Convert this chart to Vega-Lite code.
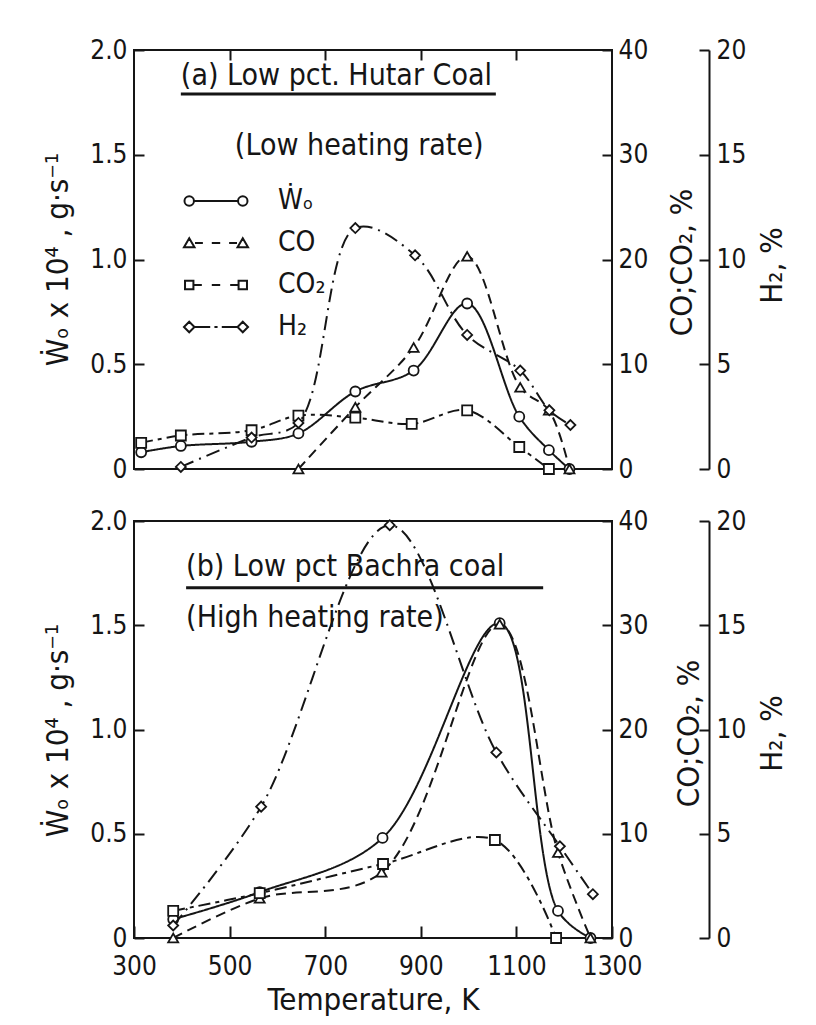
{
  "$schema": "https://vega.github.io/schema/vega-lite/v6.json",
  "background": "white",
  "padding": {"left": 41, "top": 36, "right": 0, "bottom": 0},
  "config": {
    "font": "DejaVu Sans Condensed, Liberation Sans Narrow, DejaVu Sans",
    "view": {"stroke": "#151515", "strokeWidth": 2},
    "concat": {"spacing": 24},
    "axis": {
      "grid": false,
      "labelFont": "DejaVu Sans Condensed, Liberation Sans Narrow, DejaVu Sans",
      "labelFontSize": 26,
      "labelColor": "#151515",
      "labelFlush": false,
      "labelOverlap": false,
      "titleFont": "DejaVu Sans Condensed, Liberation Sans Narrow, DejaVu Sans",
      "titleFontSize": 31,
      "titleFontWeight": "normal",
      "titleColor": "#151515",
      "tickColor": "#151515",
      "tickWidth": 2,
      "domainColor": "#151515",
      "domainWidth": 2
    },
    "legend": {
      "labelFont": "DejaVu Sans Condensed, Liberation Sans Narrow, DejaVu Sans",
      "labelFontSize": 28,
      "labelColor": "#151515"
    }
  },
  "datasets": {
    "curves": [
      {"panel": "a", "gas": "W", "T": 315, "v": 0.08},
      {"panel": "a", "gas": "W", "T": 398, "v": 0.11},
      {"panel": "a", "gas": "W", "T": 546, "v": 0.13},
      {"panel": "a", "gas": "W", "T": 644, "v": 0.17},
      {"panel": "a", "gas": "W", "T": 763, "v": 0.37},
      {"panel": "a", "gas": "W", "T": 885, "v": 0.47},
      {"panel": "a", "gas": "W", "T": 997, "v": 0.79},
      {"panel": "a", "gas": "W", "T": 1106, "v": 0.25},
      {"panel": "a", "gas": "W", "T": 1168, "v": 0.09},
      {"panel": "a", "gas": "W", "T": 1211, "v": 0},
      {"panel": "a", "gas": "CO", "T": 644, "v": 0},
      {"panel": "a", "gas": "CO", "T": 763, "v": 5.9},
      {"panel": "a", "gas": "CO", "T": 885, "v": 11.6},
      {"panel": "a", "gas": "CO", "T": 997, "v": 20.3},
      {"panel": "a", "gas": "CO", "T": 1108, "v": 7.8},
      {"panel": "a", "gas": "CO", "T": 1168, "v": 5.6},
      {"panel": "a", "gas": "CO", "T": 1211, "v": 0},
      {"panel": "a", "gas": "CO2", "T": 315, "v": 2.5},
      {"panel": "a", "gas": "CO2", "T": 398, "v": 3.2},
      {"panel": "a", "gas": "CO2", "T": 546, "v": 3.7},
      {"panel": "a", "gas": "CO2", "T": 644, "v": 5.1},
      {"panel": "a", "gas": "CO2", "T": 763, "v": 4.9},
      {"panel": "a", "gas": "CO2", "T": 881, "v": 4.3},
      {"panel": "a", "gas": "CO2", "T": 997, "v": 5.6},
      {"panel": "a", "gas": "CO2", "T": 1106, "v": 2.1},
      {"panel": "a", "gas": "CO2", "T": 1168, "v": 0},
      {"panel": "a", "gas": "H2", "T": 398, "v": 0.1},
      {"panel": "a", "gas": "H2", "T": 546, "v": 1.5},
      {"panel": "a", "gas": "H2", "T": 644, "v": 2.2},
      {"panel": "a", "gas": "H2", "T": 763, "v": 11.5},
      {"panel": "a", "gas": "H2", "T": 888, "v": 10.2},
      {"panel": "a", "gas": "H2", "T": 997, "v": 6.4},
      {"panel": "a", "gas": "H2", "T": 1108, "v": 4.7},
      {"panel": "a", "gas": "H2", "T": 1169, "v": 2.8},
      {"panel": "a", "gas": "H2", "T": 1213, "v": 2.1},
      {"panel": "b", "gas": "W", "T": 382, "v": 0.09},
      {"panel": "b", "gas": "W", "T": 563, "v": 0.22},
      {"panel": "b", "gas": "W", "T": 820, "v": 0.48},
      {"panel": "b", "gas": "W", "T": 1065, "v": 1.51},
      {"panel": "b", "gas": "W", "T": 1187, "v": 0.13},
      {"panel": "b", "gas": "W", "T": 1255, "v": 0},
      {"panel": "b", "gas": "CO", "T": 382, "v": 0},
      {"panel": "b", "gas": "CO", "T": 563, "v": 3.8},
      {"panel": "b", "gas": "CO", "T": 818, "v": 6.3},
      {"panel": "b", "gas": "CO", "T": 1065, "v": 30.1},
      {"panel": "b", "gas": "CO", "T": 1187, "v": 8.2},
      {"panel": "b", "gas": "CO", "T": 1255, "v": 0},
      {"panel": "b", "gas": "CO2", "T": 382, "v": 2.6},
      {"panel": "b", "gas": "CO2", "T": 563, "v": 4.3},
      {"panel": "b", "gas": "CO2", "T": 821, "v": 7.1},
      {"panel": "b", "gas": "CO2", "T": 1055, "v": 9.4},
      {"panel": "b", "gas": "CO2", "T": 1183, "v": 0},
      {"panel": "b", "gas": "H2", "T": 382, "v": 0.6},
      {"panel": "b", "gas": "H2", "T": 566, "v": 6.3},
      {"panel": "b", "gas": "H2", "T": 835, "v": 19.8},
      {"panel": "b", "gas": "H2", "T": 1058, "v": 8.9},
      {"panel": "b", "gas": "H2", "T": 1191, "v": 4.4},
      {"panel": "b", "gas": "H2", "T": 1260, "v": 2.1}
    ],
    "notes": [
      {"panel": "a", "T": 398, "v": 1.876, "label": "(a) Low pct. Hutar Coal"},
      {"panel": "a", "T": 511, "v": 1.54, "label": "(Low heating rate)"},
      {"panel": "b", "T": 409, "v": 1.78, "label": "(b) Low pct Bachra coal"},
      {"panel": "b", "T": 409, "v": 1.536, "label": "(High heating rate)"}
    ],
    "underlines": [
      {"panel": "a", "T": 398, "T2": 1057, "v": 1.79},
      {"panel": "b", "T": 409, "T2": 1156, "v": 1.68}
    ]
  },
  "vconcat": [
    {
      "width": 478,
      "height": 419,
      "encoding": {
        "x": {
          "field": "T", "type": "quantitative",
          "scale": {"domain": [300, 1300], "nice": false, "zero": false},
          "axis": {"orient": "top", "values": [500, 700, 900, 1100], "labels": false, "domain": false, "tickSize": -10, "title": null}
        }
      },
      "layer": [
        {
          "data": {"name": "curves"},
          "transform": [{"filter": "datum.panel === 'a' && datum.gas === 'W'"}],
          "encoding": {
            "y": {
              "field": "v", "type": "quantitative",
              "scale": {"domain": [0, 2], "nice": false},
              "axis": {
                "orient": "left", "values": [0, 0.5, 1, 1.5, 2],
                "labelExpr": "datum.value == 0 ? '0' : format(datum.value, '.1f')",
                "tickSize": -10, "labelPadding": 17, "domain": false,
                "title": "Ẇₒ x 10⁴ , g·s⁻¹", "titleAngle": 270, "titleX": -76, "titleY": 209,
                "titleAlign": "center", "titleBaseline": "middle"
              }
            }
          },
          "layer": [
            {
              "mark": {"type": "line", "interpolate": "catmull-rom", "stroke": "#151515"},
              "encoding": {
                "strokeDash": {"field": "gas", "type": "nominal", "scale": {"domain": ["H2", "W", "CO", "CO2"], "range": [[14, 6, 2, 6], [1, 0], [10, 6], [12, 5, 4, 5]]}, "legend": null},
                "strokeWidth": {
                  "field": "gas", "type": "nominal",
                  "scale": {"domain": ["W", "CO", "CO2", "H2"], "range": [2, 2]},
                  "legend": {
                    "orient": "none", "legendX": 68, "legendY": 137,
                    "title": null, "padding": 0,
                    "symbolSize": 441, "symbolOpacity": 1, "symbolFillColor": "transparent", "symbolStrokeColor": "#151515",
                    "labelOffset": 48, "rowPadding": 14,
                    "labelBaseline": "middle",
                    "labelExpr": "datum.label == 'W' ? 'Ẇₒ' : datum.label == 'CO2' ? 'CO₂' : datum.label == 'H2' ? 'H₂' : datum.label",
                    "encoding": {
                      "symbols": {
                        "shape": {
                          "condition": [
                            {"test": "datum.value == 'CO'", "value": "M-2.55,-0.45L-3.05,0.4L-2.05,0.4ZM-2,0L-1.25,0M-0.4,0L0.4,0M1.25,0L2,0M2.55,-0.45L2.05,0.4L3.05,0.4Z"},
                            {"test": "datum.value == 'CO2'", "value": "M-2.95,-0.4L-2.15,-0.4L-2.15,0.4L-2.95,0.4ZM-2.15,0L-1.35,0M-0.4,0L0.4,0M1.35,0L2.15,0M2.15,-0.4L2.95,-0.4L2.95,0.4L2.15,0.4Z"},
                            {"test": "datum.value == 'H2'", "value": "M-2.55,-0.5L-2.05,0L-2.55,0.5L-3.05,0ZM-2.05,0L-0.55,0M-0.15,0L0.15,0M0.55,0L2.05,0M2.55,-0.5L3.05,0L2.55,0.5L2.05,0Z"}
                          ],
                          "value": "M-3,0A0.45,0.45,0,1,0,-2.1,0A0.45,0.45,0,1,0,-3,0ZM-2.1,0L2.1,0M2.1,0A0.45,0.45,0,1,0,3,0A0.45,0.45,0,1,0,2.1,0Z"
                        },
                        "fill": {"value": "transparent"},
                        "stroke": {"value": "#151515"},
                        "size": {"value": 441},
                        "opacity": {"value": 1}
                      }
                    }
                  }
                }
              }
            },
            {
              "mark": {"type": "point", "filled": true, "fill": "white", "stroke": "#151515", "strokeWidth": 1.8, "size": 100, "opacity": 1},
              "encoding": {
                "shape": {"field": "gas", "type": "nominal", "scale": {"domain": ["CO", "CO2", "H2", "W"], "range": ["triangle-up", "square", "diamond", "circle"]}, "legend": null}
              }
            }
          ]
        },
        {
          "data": {"name": "curves"},
          "transform": [{"filter": "datum.panel === 'a' && (datum.gas === 'CO' || datum.gas === 'CO2')"}],
          "encoding": {
            "y": {
              "field": "v", "type": "quantitative",
              "scale": {"domain": [0, 40], "nice": false},
              "axis": {
                "orient": "right", "values": [0, 10, 20, 30, 40],
                "tickSize": -10, "labelPadding": 16, "domain": false,
                "title": "CO;CO₂, %", "titleAngle": 270, "titleX": 70, "titleY": 212,
                "titleAlign": "center", "titleBaseline": "middle"
              }
            }
          },
          "layer": [
            {
              "mark": {"type": "line", "interpolate": "catmull-rom", "stroke": "#151515", "strokeWidth": 2},
              "encoding": {"strokeDash": {"field": "gas", "type": "nominal", "scale": {"domain": ["H2", "W", "CO", "CO2"], "range": [[14, 6, 2, 6], [1, 0], [10, 6], [12, 5, 4, 5]]}, "legend": null}}
            },
            {
              "mark": {"type": "point", "filled": true, "fill": "white", "stroke": "#151515", "strokeWidth": 1.8, "size": 100, "opacity": 1},
              "encoding": {"shape": {"field": "gas", "type": "nominal", "scale": {"domain": ["CO", "CO2", "H2", "W"], "range": ["triangle-up", "square", "diamond", "circle"]}, "legend": null}}
            }
          ]
        },
        {
          "data": {"name": "curves"},
          "transform": [{"filter": "datum.panel === 'a' && datum.gas === 'H2'"}],
          "encoding": {
            "y": {
              "field": "v", "type": "quantitative",
              "scale": {"domain": [0, 20], "nice": false},
              "axis": {
                "orient": "right", "offset": 97, "values": [0, 5, 10, 15, 20],
                "tickSize": -10, "labelPadding": 17, "domain": true,
                "title": "H₂, %", "titleAngle": 270, "titleX": 63, "titleY": 215,
                "titleAlign": "center", "titleBaseline": "middle"
              }
            }
          },
          "layer": [
            {
              "mark": {"type": "line", "interpolate": "catmull-rom", "stroke": "#151515", "strokeWidth": 2},
              "encoding": {"strokeDash": {"field": "gas", "type": "nominal", "scale": {"domain": ["H2", "W", "CO", "CO2"], "range": [[14, 6, 2, 6], [1, 0], [10, 6], [12, 5, 4, 5]]}, "legend": null}}
            },
            {
              "mark": {"type": "point", "filled": true, "fill": "white", "stroke": "#151515", "strokeWidth": 1.8, "size": 100, "opacity": 1},
              "encoding": {"shape": {"field": "gas", "type": "nominal", "scale": {"domain": ["CO", "CO2", "H2", "W"], "range": ["triangle-up", "square", "diamond", "circle"]}, "legend": null}}
            }
          ]
        },
        {
          "data": {"name": "notes"},
          "transform": [{"filter": "datum.panel === 'a'"}],
          "mark": {"type": "text", "align": "left", "baseline": "middle", "fontSize": 30, "fill": "#151515"},
          "encoding": {
            "y": {"field": "v", "type": "quantitative", "scale": {"domain": [0, 2], "nice": false}, "axis": null},
            "text": {"field": "label"}
          }
        },
        {
          "data": {"name": "underlines"},
          "transform": [{"filter": "datum.panel === 'a'"}],
          "mark": {"type": "rule", "stroke": "#151515", "strokeWidth": 3},
          "encoding": {
            "x2": {"field": "T2"},
            "y": {"field": "v", "type": "quantitative", "scale": {"domain": [0, 2], "nice": false}, "axis": null}
          }
        }
      ],
      "resolve": {"scale": {"y": "independent"}}
    },
    {
      "width": 478,
      "height": 417,
      "encoding": {
        "x": {
          "field": "T", "type": "quantitative",
          "scale": {"domain": [300, 1300], "nice": false, "zero": false},
          "axis": {
            "orient": "bottom", "values": [300, 500, 700, 900, 1100, 1300], "format": "d",
            "tickSize": -12, "labelPadding": 27, "domain": false,
            "title": "Temperature, K", "titleY": 62, "titleBaseline": "middle"
          }
        }
      },
      "layer": [
        {
          "data": {"name": "curves"},
          "transform": [{"filter": "datum.panel === 'b' && datum.gas === 'W'"}],
          "encoding": {
            "y": {
              "field": "v", "type": "quantitative",
              "scale": {"domain": [0, 2], "nice": false},
              "axis": {
                "orient": "left", "values": [0, 0.5, 1, 1.5, 2],
                "labelExpr": "datum.value == 0 ? '0' : format(datum.value, '.1f')",
                "tickSize": -10, "labelPadding": 17, "domain": false,
                "title": "Ẇₒ x 10⁴ , g·s⁻¹", "titleAngle": 270, "titleX": -76, "titleY": 209,
                "titleAlign": "center", "titleBaseline": "middle"
              }
            }
          },
          "layer": [
            {
              "mark": {"type": "line", "interpolate": "catmull-rom", "stroke": "#151515", "strokeWidth": 2},
              "encoding": {"strokeDash": {"field": "gas", "type": "nominal", "scale": {"domain": ["H2", "W", "CO", "CO2"], "range": [[14, 6, 2, 6], [1, 0], [10, 6], [12, 5, 4, 5]]}, "legend": null}}
            },
            {
              "mark": {"type": "point", "filled": true, "fill": "white", "stroke": "#151515", "strokeWidth": 1.8, "size": 100, "opacity": 1},
              "encoding": {"shape": {"field": "gas", "type": "nominal", "scale": {"domain": ["CO", "CO2", "H2", "W"], "range": ["triangle-up", "square", "diamond", "circle"]}, "legend": null}}
            }
          ]
        },
        {
          "data": {"name": "curves"},
          "transform": [{"filter": "datum.panel === 'b' && (datum.gas === 'CO' || datum.gas === 'CO2')"}],
          "encoding": {
            "y": {
              "field": "v", "type": "quantitative",
              "scale": {"domain": [0, 40], "nice": false},
              "axis": {
                "orient": "right", "values": [0, 10, 20, 30, 40],
                "tickSize": -10, "labelPadding": 16, "domain": false,
                "title": "CO;CO₂, %", "titleAngle": 270, "titleX": 77, "titleY": 212,
                "titleAlign": "center", "titleBaseline": "middle"
              }
            }
          },
          "layer": [
            {
              "mark": {"type": "line", "interpolate": "catmull-rom", "stroke": "#151515", "strokeWidth": 2},
              "encoding": {"strokeDash": {"field": "gas", "type": "nominal", "scale": {"domain": ["H2", "W", "CO", "CO2"], "range": [[14, 6, 2, 6], [1, 0], [10, 6], [12, 5, 4, 5]]}, "legend": null}}
            },
            {
              "mark": {"type": "point", "filled": true, "fill": "white", "stroke": "#151515", "strokeWidth": 1.8, "size": 100, "opacity": 1},
              "encoding": {"shape": {"field": "gas", "type": "nominal", "scale": {"domain": ["CO", "CO2", "H2", "W"], "range": ["triangle-up", "square", "diamond", "circle"]}, "legend": null}}
            }
          ]
        },
        {
          "data": {"name": "curves"},
          "transform": [{"filter": "datum.panel === 'b' && datum.gas === 'H2'"}],
          "encoding": {
            "y": {
              "field": "v", "type": "quantitative",
              "scale": {"domain": [0, 20], "nice": false},
              "axis": {
                "orient": "right", "offset": 97, "values": [0, 5, 10, 15, 20],
                "tickSize": -10, "labelPadding": 17, "domain": true,
                "title": "H₂, %", "titleAngle": 270, "titleX": 63, "titleY": 212,
                "titleAlign": "center", "titleBaseline": "middle"
              }
            }
          },
          "layer": [
            {
              "mark": {"type": "line", "interpolate": "catmull-rom", "stroke": "#151515", "strokeWidth": 2},
              "encoding": {"strokeDash": {"field": "gas", "type": "nominal", "scale": {"domain": ["H2", "W", "CO", "CO2"], "range": [[14, 6, 2, 6], [1, 0], [10, 6], [12, 5, 4, 5]]}, "legend": null}}
            },
            {
              "mark": {"type": "point", "filled": true, "fill": "white", "stroke": "#151515", "strokeWidth": 1.8, "size": 100, "opacity": 1},
              "encoding": {"shape": {"field": "gas", "type": "nominal", "scale": {"domain": ["CO", "CO2", "H2", "W"], "range": ["triangle-up", "square", "diamond", "circle"]}, "legend": null}}
            }
          ]
        },
        {
          "data": {"name": "notes"},
          "transform": [{"filter": "datum.panel === 'b'"}],
          "mark": {"type": "text", "align": "left", "baseline": "middle", "fontSize": 30, "fill": "#151515"},
          "encoding": {
            "y": {"field": "v", "type": "quantitative", "scale": {"domain": [0, 2], "nice": false}, "axis": null},
            "text": {"field": "label"}
          }
        },
        {
          "data": {"name": "underlines"},
          "transform": [{"filter": "datum.panel === 'b'"}],
          "mark": {"type": "rule", "stroke": "#151515", "strokeWidth": 3},
          "encoding": {
            "x2": {"field": "T2"},
            "y": {"field": "v", "type": "quantitative", "scale": {"domain": [0, 2], "nice": false}, "axis": null}
          }
        }
      ],
      "resolve": {"scale": {"y": "independent"}}
    }
  ]
}
